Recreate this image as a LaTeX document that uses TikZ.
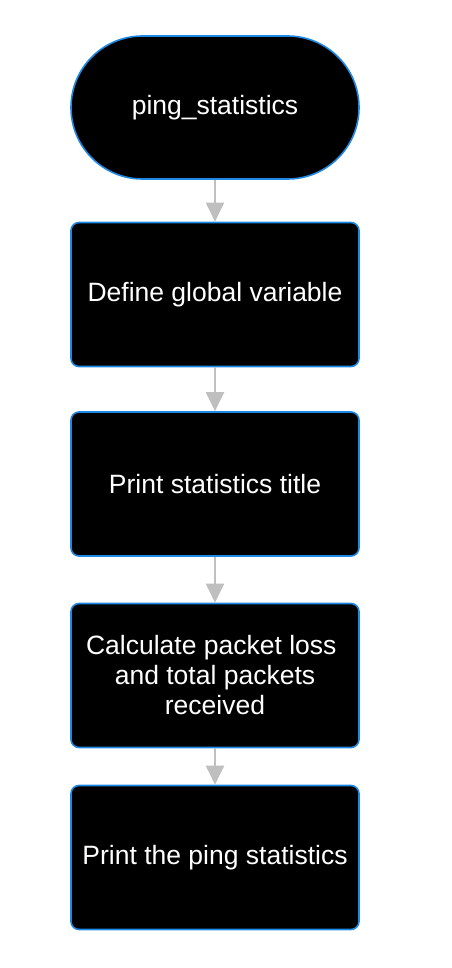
\documentclass[tikz,border=0pt]{standalone}
\usepackage{fontspec}
\setmainfont{Liberation Sans}
\usetikzlibrary{arrows.meta}
\definecolor{bordblue}{RGB}{30,136,229}
\definecolor{arrgray}{RGB}{191,191,191}
\begin{document}
\begin{tikzpicture}[x=1pt,y=1pt,
  stepbox/.style={draw=bordblue, line width=1.6pt, fill=black, text=white,
    rounded corners=8pt, minimum width=288pt, minimum height=144pt,
    inner sep=0pt, align=center, font=\fontsize{26.5}{30}\selectfont},
  termbox/.style={stepbox, rounded corners=71.5pt, minimum height=143pt},
  flow/.style={draw=arrgray, line width=2pt, -{Triangle[length=19pt,width=18pt]}}]
\useasboundingbox (0,0) rectangle (451,-968);
\node[termbox] (start) at (215,-107.5) {ping\_statistics};
\node[stepbox] (b1) at (215,-294.5) {Define global variable};
\node[stepbox] (b2) at (215,-484) {Print statistics title};
\node[stepbox] (b3) at (215,-675.5) {Calculate packet loss\hspace*{7.4pt}\\ and total packets\hspace*{7.4pt}\\ received};
\node[stepbox] (b4) at (215,-857.5) {Print the ping statistics};
\draw[flow] (start) -- (b1);
\draw[flow] (b1) -- (b2);
\draw[flow] (b2) -- (b3);
\draw[flow] (b3) -- (b4);
\end{tikzpicture}
\end{document}
